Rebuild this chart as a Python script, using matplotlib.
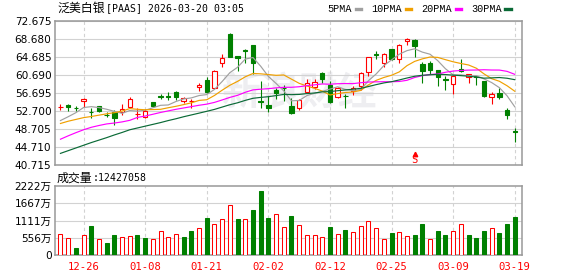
import matplotlib
matplotlib.use("Agg")
import matplotlib.pyplot as plt
from matplotlib.patches import Rectangle
from matplotlib.lines import Line2D

plt.rcParams['font.family'] = ['DejaVu Sans', 'Noto Sans CJK SC']

# trading days shown on the chart
days = ["12-22", "12-23", "12-24", "12-26", "12-29", "12-30", "12-31",
        "01-02", "01-05", "01-06", "01-07", "01-08", "01-09", "01-12", "01-13",
        "01-14", "01-15", "01-16", "01-20", "01-21", "01-22", "01-23", "01-26",
        "01-27", "01-28", "01-29", "01-30",
        "02-02", "02-03", "02-04", "02-05", "02-06", "02-09", "02-10", "02-11",
        "02-12", "02-13", "02-17", "02-18", "02-19", "02-20", "02-23", "02-24",
        "02-25", "02-26", "02-27",
        "03-02", "03-03", "03-04", "03-05", "03-06", "03-09", "03-10", "03-11",
        "03-12", "03-13", "03-16", "03-17", "03-18", "03-19"]
label_days = ["12-26", "01-08", "01-21", "02-02", "02-12", "02-25", "03-09", "03-19"]
split_day = "03-02"

opens = [53.55, 54.0, 53.5, 54.9, 52.5, 53.85, 51.9, 52.5, 52.4, 53.55,
         51.95, 51.3, 54.65, 55.95, 55.95, 56.9, 55.0, 54.9, 58.0, 59.6,
         57.95, 63.35, 69.9, 64.95, 66.35, 67.4, 54.9, 54.1, 57.4, 57.85,
         53.85, 53.35, 57.0, 58.05, 61.2, 58.4, 55.9, 56.1, 57.2, 58.3,
         61.35, 65.3, 63.35, 66.45, 64.2, 68.25, 68.5, 63.15, 63.4, 61.75,
         59.75, 58.7, 62.0, 60.3, 60.4, 59.45, 55.85, 56.8, 53.0, 48.2]
highs = [54.2, 54.3, 53.85, 55.7, 53.3, 53.9, 52.45, 52.95, 54.2, 55.8,
         53.3, 53.1, 54.8, 56.45, 56.9, 57.1, 55.9, 55.35, 58.95, 60.2,
         61.85, 65.45, 70.0, 65.0, 66.6, 67.45, 59.4, 56.05, 57.75, 58.45,
         55.55, 55.5, 59.8, 59.8, 61.5, 59.4, 58.15, 56.4, 58.2, 61.45,
         64.8, 66.0, 65.6, 66.5, 67.55, 68.9, 68.7, 63.7, 63.95, 61.85,
         60.6, 60.75, 64.2, 60.95, 60.5, 59.5, 57.0, 57.9, 53.45, 48.9]
lows = [53.0, 52.7, 52.65, 53.7, 51.1, 52.5, 51.3, 49.55, 51.85, 53.3,
        50.95, 51.15, 53.55, 55.3, 55.2, 55.2, 54.45, 53.3, 57.2, 56.65,
        57.75, 62.45, 64.8, 61.7, 63.35, 61.05, 53.35, 52.55, 55.5, 54.9,
        52.05, 52.95, 56.65, 57.7, 58.9, 54.45, 55.55, 53.4, 56.3, 57.3,
        60.5, 64.2, 62.55, 64.05, 63.45, 67.4, 64.8, 59.0, 60.95, 58.2,
        57.4, 56.5, 61.4, 58.9, 58.4, 55.75, 54.2, 55.3, 51.0, 45.9]
closes = [53.65, 53.7, 53.42, 55.3, 52.4, 52.65, 51.8, 51.1, 53.1, 55.45,
          52.05, 52.75, 53.85, 55.85, 55.85, 55.9, 55.6, 55.0, 58.45, 56.95,
          61.6, 64.45, 64.8, 64.45, 66.05, 63.35, 54.8, 53.45, 56.65, 57.75,
          52.3, 55.15, 58.9, 59.25, 59.9, 54.75, 57.75, 56.0, 57.85, 61.1,
          64.65, 65.2, 65.3, 64.25, 67.35, 68.65, 67.25, 61.6, 61.9, 60.2,
          59.65, 60.5, 61.55, 60.9, 60.3, 56.05, 56.45, 55.9, 51.85, 48.05]

ma5 = [50.6, 51.45, 52.35, 53.5, 53.69, 53.49, 53.11, 52.65, 52.21, 52.82,
       52.70, 52.89, 53.44, 53.99, 54.07, 54.84, 55.41, 55.64, 56.16, 56.38,
       57.52, 59.29, 61.25, 62.45, 64.27, 64.62, 62.69, 60.42, 58.86, 57.20,
       54.99, 55.06, 56.15, 56.67, 57.10, 57.59, 58.11, 57.53, 57.25, 57.49,
       59.47, 60.96, 62.82, 64.10, 65.35, 66.15, 66.56, 65.82, 65.35, 63.92,
       62.12, 60.77, 60.76, 60.56, 60.58, 59.86, 59.05, 57.92, 56.11, 53.66]
ma10 = [49.95, 50.45, 50.85, 51.25, 51.5, 51.8, 52.1, 52.35, 52.7, 53.26,
        53.10, 53.00, 53.05, 53.10, 53.45, 53.77, 54.15, 54.54, 55.08, 55.23,
        56.18, 57.35, 58.45, 59.31, 60.33, 61.07, 60.99, 60.84, 60.66, 60.74,
        59.81, 58.88, 58.29, 57.77, 57.15, 56.29, 56.59, 56.84, 56.96, 57.30,
        58.53, 59.54, 60.18, 60.68, 61.42, 62.81, 63.76, 64.32, 64.73, 64.64,
        64.14, 63.67, 63.29, 62.96, 62.25, 60.99, 59.91, 59.34, 58.34, 57.12]
ma20 = [46.45, 47.2, 47.9, 48.55, 49.1, 49.5, 49.85, 50.05, 50.3, 50.65,
        51.3, 51.6, 52.0, 52.4, 52.75, 53.1, 53.4, 53.7, 54.0, 54.25,
        54.64, 55.18, 55.75, 56.21, 56.89, 57.42, 57.57, 57.69, 57.87, 57.99,
        58.00, 58.12, 58.37, 58.54, 58.74, 58.68, 58.79, 58.84, 58.81, 59.02,
        59.17, 59.21, 59.24, 59.23, 59.29, 59.55, 60.18, 60.58, 60.85, 60.97,
        61.34, 61.61, 61.74, 61.82, 61.84, 61.90, 61.84, 61.83, 61.54, 60.88]
ma30 = [43.3, 43.9, 44.5, 45.1, 45.7, 46.25, 46.8, 47.4, 47.95, 48.55,
        48.95, 49.35, 49.75, 50.15, 50.6, 51.0, 51.45, 51.85, 52.25, 52.66,
        53.08, 53.6, 54.12, 54.55, 55.09, 55.55, 55.75, 55.91, 56.15, 56.41,
        56.36, 56.41, 56.60, 56.73, 56.98, 57.04, 57.24, 57.41, 57.57, 57.76,
        58.17, 58.59, 58.97, 59.25, 59.63, 60.06, 60.45, 60.67, 60.78, 60.89,
        60.83, 60.70, 60.59, 60.47, 60.27, 60.03, 60.09, 60.17, 60.01, 59.69]

# volume in 万 shares, and its colour (R up / G down vs previous close)
volume = [684, 555, 246, 651, 951, 523, 395, 651, 587, 619,
          651, 566, 523, 780, 587, 684, 587, 780, 876, 1207,
          1004, 1164, 1613, 1164, 1164, 1452, 2072, 1207, 1324, 908,
          1271, 972, 641, 641, 587, 918, 684, 822, 748, 940,
          1100, 876, 523, 716, 748, 619, 651, 1004, 523, 780,
          651, 780, 1004, 651, 555, 780, 876, 716, 1004, 1243]
vol_dir = list("RRGRGRGGRR" "GGRRRRGGRG" "RRRGRGGGRR"
               "GRRRRGRGRR" "RRRGRRGGRG" "GRRGGGRGGG")

price_ticks = [72.675, 68.680, 64.685, 60.690, 56.695, 52.700, 48.705, 44.710, 40.715]
vol_ticks = [0, 556, 1111, 1667, 2222]
vol_tick_labels = ["0", "556万", "1111万", "1667万", "2222万"]

ma_names = ["5PMA", "10PMA", "20PMA", "30PMA"]
ma_colors = ["#a0a0a0", "#f0a000", "#ff00ff", "#0a6a36"]

RED = "#ff0000"
GREEN = "#008000"
GRID = "#d2d2d2"
FRAME = "#999999"
W, H = 578, 276


def style_axes(ax):
    for s in ax.spines.values():
        s.set_color(FRAME)
        s.set_linewidth(1.1)
    ax.set_xlim(-0.71, 59.94)
    for d in label_days:
        ax.axvline(days.index(d), color=GRID, lw=0.8, dashes=(3, 2.5), zorder=1)


fig = plt.figure(figsize=(W / 100, H / 100), dpi=100)
ax = fig.add_axes([55 / W, 1 - 165 / H, 467 / W, 143.7 / H])
vax = fig.add_axes([55 / W, 1 - 255.3 / H, 467 / W, 69.3 / H])

# price panel
style_axes(ax)
ax.set_ylim(price_ticks[-1], price_ticks[0])
ax.set_yticks(price_ticks)
ax.set_yticklabels(["%.3f" % t for t in price_ticks])
ax.tick_params(axis="y", length=0, pad=2.5, labelsize=7.6, colors="black")
ax.tick_params(axis="x", length=0, labelbottom=False)
ax.set_xticks([])
for t in price_ticks:
    ax.axhline(t, color=GRID, lw=0.8, zorder=1)

ax.text(0.525, 0.5, "新浪财经", transform=ax.transAxes, ha="center", va="center",
        fontsize=28, color="#eeeef1", family="Noto Sans CJK SC", weight="bold", zorder=0.5)

body_w = 0.58
for i, (o, h, l, c) in enumerate(zip(opens, highs, lows, closes)):
    up = c >= o
    col = RED if up else GREEN
    ax.vlines(i, l, h, color=col, lw=0.8, zorder=3)
    ax.add_patch(Rectangle((i - body_w / 2, min(o, c)), body_w, max(abs(c - o), 0.03),
                           facecolor="white" if up else col, edgecolor=col, lw=0.8, zorder=4))

for series, col in zip([ma5, ma10, ma20, ma30], ma_colors):
    ax.plot(range(len(series)), series, color=col, lw=0.85, zorder=5)

si = days.index(split_day)
ax.plot(si, 43.2, marker="^", color=RED, ms=3.2, zorder=6)
ax.text(si, 41.75, "S", color=RED, ha="center", va="center", family="DejaVu Sans Mono",
        fontsize=7.5, zorder=6)

handles = [Line2D([], [], color=c, lw=2.4) for c in ma_colors]
ax.legend(handles, ma_names, ncol=4, markerfirst=False, frameon=False,
          loc="center right", bbox_to_anchor=(511 / W, 1 - 9.5 / H), bbox_transform=fig.transFigure,
          prop={"family": "Liberation Mono", "size": 7.3}, handlelength=0.55,
          handletextpad=0.35, columnspacing=1.0, borderpad=0, borderaxespad=0)

# volume panel
style_axes(vax)
vax.set_ylim(0, vol_ticks[-1])
vax.set_yticks(vol_ticks)
vax.set_yticklabels(vol_tick_labels)
vax.tick_params(axis="y", length=0, pad=2.5, labelsize=7.6, colors="black")
for t in vol_ticks[1:-1]:
    vax.axhline(t, color=GRID, lw=0.8, zorder=1)
edge = [RED if d == "R" else GREEN for d in vol_dir]
face = ["white" if d == "R" else GREEN for d in vol_dir]
vax.bar(range(len(volume)), volume, width=0.52, color=face, edgecolor=edge, lw=0.75, zorder=3)
vax.set_xticks([days.index(d) for d in label_days])
vax.set_xticklabels(label_days, family="DejaVu Sans Mono", fontsize=7.6, color=RED)
vax.tick_params(axis="x", length=0, pad=5)

# header texts
fig.text(57 / W, 1 - 8.5 / H, "泛美白银", family="Noto Sans CJK SC", fontsize=8.6, va="center")
fig.text(106 / W, 1 - 8.5 / H, "[PAAS] 2026-03-20 03:05", family="DejaVu Sans Mono",
         fontsize=7.1, va="center")
fig.text(57 / W, 1 - 178 / H, "成交量", family="Noto Sans CJK SC", fontsize=8.6, va="center")
fig.text(93 / W, 1 - 178 / H, ":12427058", family="DejaVu Sans Mono", fontsize=7.1, va="center")

fig.savefig("out.png", dpi=100, facecolor="white")
